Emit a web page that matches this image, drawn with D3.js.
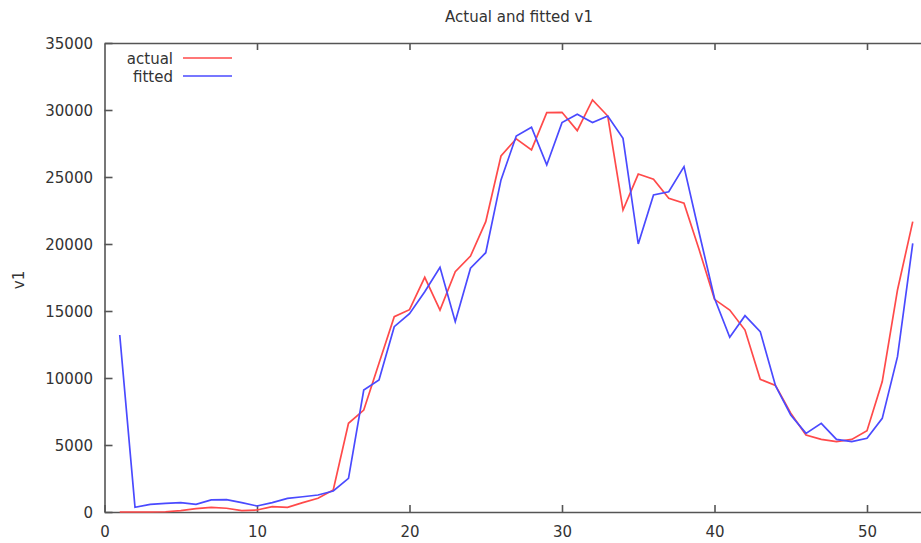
<!DOCTYPE html>
<html>
<head>
<meta charset="utf-8">
<script src="https://cdn.jsdelivr.net/npm/d3@7"></script>
<style>
  html, body { margin: 0; padding: 0; background: #fff; }
  svg { display: block; font-family: "DejaVu Sans", Verdana, sans-serif; }
</style>
</head>
<body>
<svg id="chart" width="921" height="543"></svg>
<script>
// Observation index 1..53
const periods = d3.range(1, 54);

// Actual v1
const actualValues = [
  0, 0, 0, 20, 100, 250, 350, 280, 100, 150,
  400, 350, 700, 1020, 1640, 6620, 7610, 11100, 14580, 15100,
  17510, 15070, 17940, 19100, 21670, 26570, 27850, 27020, 29800, 29830,
  28460, 30750, 29550, 22540, 25220, 24830, 23410, 23040, 19550, 15870,
  15070, 13580, 9900, 9450, 7370, 5750, 5420, 5250, 5420, 6070,
  9730, 16570, 21670
];

// Fitted v1
const fittedValues = [
  13210, 350, 570, 650, 700, 570, 900, 920, 700, 450,
  700, 1020, 1140, 1270, 1570, 2510, 9100, 9850, 13830, 14800,
  16440, 18260, 14200, 18190, 19350, 24780, 28060, 28710, 25900, 29060,
  29680, 29060, 29550, 27890, 20000, 23660, 23900, 25770, 20800, 15950,
  13040, 14650, 13460, 9420, 7240, 5870, 6620, 5420, 5250, 5500,
  6990, 11590, 20050
];

const xTicks = [0, 10, 20, 30, 40, 50];
const yTicks = [0, 5000, 10000, 15000, 20000, 25000, 30000, 35000];

const seriesNames = ["actual", "fitted"];
const seriesColors = ["#ff4a4a", "#4a4aff"];

const svg = d3.select("#chart");

const plotLeft = 104.5, plotTop = 43, plotBottom = 512;
const x = d3.scaleLinear().domain([0, 54]).range([plotLeft, plotLeft + 15.25 * 54]);
const y = d3.scaleLinear().domain([0, 35000]).range([plotBottom, plotTop]);

const axisColor = "#555";
const textColor = "#333";
const fontFamily = "\"DejaVu Sans\", Verdana, sans-serif";
const fontSize = 15;

// Title
svg.append("text")
  .attr("x", 519).attr("y", 22)
  .attr("text-anchor", "middle")
  .attr("font-size", fontSize).attr("fill", textColor)
  .text("Actual and fitted v1");

// Y axis label
svg.append("text")
  .attr("transform", "translate(24,280) rotate(-90)")
  .attr("text-anchor", "middle")
  .attr("font-size", fontSize).attr("fill", textColor)
  .text("v1");

// Bottom axis (ticks pointing inward)
const xAxis = svg.append("g")
  .attr("transform", `translate(0,${plotBottom})`)
  .call(d3.axisBottom(x).tickValues(xTicks).tickFormat(d3.format("d"))
    .tickSizeInner(-7).tickSizeOuter(0).tickPadding(14));
// Top border with mirrored ticks
const xAxisTop = svg.append("g")
  .attr("transform", `translate(0,${plotTop})`)
  .call(d3.axisTop(x).tickValues(xTicks.filter(v => v > 0)).tickSizeInner(-7).tickSizeOuter(0).tickFormat(""));
// Left axis
const yAxis = svg.append("g")
  .attr("transform", `translate(${plotLeft},0)`)
  .call(d3.axisLeft(y).tickValues(yTicks).tickFormat(d3.format("d"))
    .tickSizeInner(-8).tickSizeOuter(0).tickPadding(11.5));

[xAxis, xAxisTop, yAxis].forEach(g => {
  g.select(".domain").attr("stroke", axisColor).attr("stroke-width", 1.6);
  g.selectAll(".tick line").attr("stroke", axisColor).attr("stroke-width", 1.6);
  g.selectAll(".tick text").attr("fill", textColor).attr("font-size", fontSize)
    .attr("font-family", fontFamily);
});
yAxis.selectAll(".tick text").attr("dy", "0.35em");

// Lines
const line = d3.line()
  .x((d, i) => x(periods[i]))
  .y(d => y(d));

[actualValues, fittedValues].forEach((vals, k) => {
  svg.append("path")
    .datum(vals)
    .attr("fill", "none")
    .attr("stroke", seriesColors[k])
    .attr("stroke-width", 1.7)
    .attr("stroke-linejoin", "miter")
    .attr("d", line);
});

// Legend
seriesNames.forEach((name, k) => {
  const ly = 58 + k * 18;
  svg.append("text")
    .attr("x", 173).attr("y", ly)
    .attr("dy", "0.42em")
    .attr("text-anchor", "end")
    .attr("font-size", fontSize).attr("fill", textColor)
    .text(name);
  svg.append("line")
    .attr("x1", 183).attr("x2", 232)
    .attr("y1", ly).attr("y2", ly)
    .attr("stroke", seriesColors[k]).attr("stroke-width", 1.7);
});
</script>
</body>
</html>
